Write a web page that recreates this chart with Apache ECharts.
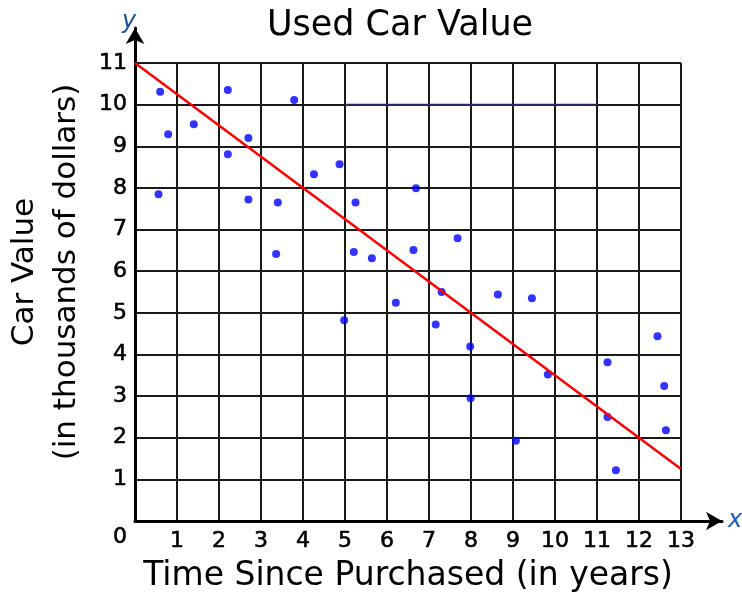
<!DOCTYPE html>
<html>
<head>
<meta charset="utf-8">
<script src="https://cdn.jsdelivr.net/npm/echarts@6/dist/echarts.min.js"></script>
<style>
  html, body { margin: 0; padding: 0; background: #fff; }
  #main { width: 742px; height: 595px; }
</style>
</head>
<body>
<div id="main"></div>
<script>
// data: [years, value in thousands]
var carPoints = [
  [0.60, 10.31], [0.79, 9.29], [1.40, 9.53], [2.21, 10.35], [2.21, 8.81],
  [2.70, 9.20], [3.79, 10.11], [4.26, 8.33], [4.87, 8.57], [6.69, 7.99],
  [0.56, 7.85], [2.70, 7.72], [3.40, 7.65], [3.36, 6.41], [5.25, 7.65],
  [5.21, 6.46], [5.64, 6.31], [6.63, 6.51], [4.98, 4.82], [6.21, 5.24],
  [7.16, 4.72], [7.30, 5.50], [7.68, 6.79], [8.64, 5.44], [9.45, 5.35],
  [7.98, 4.19], [11.25, 3.81], [12.44, 4.44], [9.83, 3.52], [7.99, 2.95],
  [9.07, 1.93], [11.25, 2.50], [11.45, 1.22], [12.60, 3.24], [12.64, 2.18]
];
// line of best fit
var fitLine = [[0, 11], [13, 1.25]];
// stray dark line on the 10 gridline
var strayLine = [[5, 10], [11, 10]];
var xMax = 13;
var yMax = 11;

var font = "DejaVu Sans";
var myChart = echarts.init(document.getElementById("main"));

// tick labels a bit heavier, like the original
var tickText = {
  fontFamily: font, fontSize: 22, color: "#000",
  textBorderColor: "#000", textBorderWidth: 0.6
};

var option = {
  animation: false,
  title: {
    text: "Used Car Value",
    left: 395,
    textAlign: "center",
    top: 3,
    textStyle: { fontFamily: font, fontSize: 35, fontWeight: "normal", color: "#000" }
  },
  grid: [
    { left: 135, right: 61, top: 63, bottom: 74, outerBoundsMode: "none", containLabel: false },
    // bigger grid only for the arrow axes
    { left: 135, right: 20, top: 28, bottom: 74, outerBoundsMode: "none", containLabel: false }
  ],
  xAxis: [
    {
      type: "value", gridIndex: 0, min: 0, max: xMax, interval: 1,
      name: "Time Since Purchased (in years)",
      nameLocation: "middle",
      nameGap: 39,
      nameTextStyle: { fontFamily: font, fontSize: 33, color: "#000" },
      axisLine: { show: false },
      axisTick: { show: false },
      axisLabel: Object.assign({
        margin: 9,
        formatter: function (v) { return v === 0 ? "" : v; }
      }, tickText),
      splitLine: { show: true, lineStyle: { color: "#1a1a1a", width: 2 } }
    },
    {
      type: "value", gridIndex: 1, min: 0, max: 1,
      name: "x",
      nameLocation: "end",
      nameGap: 6,
      nameTextStyle: { fontFamily: font, fontSize: 24, fontStyle: "italic", color: "#1a5fb4", verticalAlign: "middle", padding: [6, 0, 0, 0] },
      axisLine: { show: true, symbol: ["none", "arrow"], symbolSize: [14, 16], lineStyle: { color: "#000", width: 3 } },
      axisTick: { show: false },
      axisLabel: { show: false },
      splitLine: { show: false }
    }
  ],
  yAxis: [
    {
      type: "value", gridIndex: 0, min: 0, max: yMax, interval: 1,
      name: "Car Value\n(in thousands of dollars)",
      nameLocation: "middle",
      nameGap: 42,
      nameTextStyle: { fontFamily: font, fontSize: 31, color: "#000", lineHeight: 42, padding: [0, 0, 0, 40] },
      axisLine: { show: false },
      axisTick: { show: false },
      axisLabel: Object.assign({
        margin: 8,
        formatter: function (v) { return v === 0 ? "{z|0}" : v; },
        rich: { z: Object.assign({ padding: [32, 0, 0, 0] }, tickText) }
      }, tickText),
      splitLine: { show: true, lineStyle: { color: "#1a1a1a", width: 2 } }
    },
    {
      type: "value", gridIndex: 1, min: 0, max: 1,
      name: "y",
      nameLocation: "end",
      nameGap: -6,
      nameTextStyle: { fontFamily: font, fontSize: 24, fontStyle: "italic", color: "#1a4f9a", align: "center", padding: [0, 12, 0, 0] },
      axisLine: { show: true, symbol: ["none", "arrow"], symbolSize: [14, 16], lineStyle: { color: "#000", width: 3 } },
      axisTick: { show: false },
      axisLabel: { show: false },
      splitLine: { show: false }
    }
  ],
  series: [
    {
      type: "line", xAxisIndex: 0, yAxisIndex: 0,
      data: strayLine, symbol: "none",
      lineStyle: { color: "#2a2a70", width: 2 }
    },
    {
      type: "line", xAxisIndex: 0, yAxisIndex: 0,
      data: fitLine, symbol: "none",
      lineStyle: { color: "#ff0000", width: 2.5 }
    },
    {
      type: "scatter", xAxisIndex: 0, yAxisIndex: 0,
      data: carPoints, symbol: "circle", symbolSize: 8,
      itemStyle: { color: "#0000ff" }
    }
  ]
};
myChart.setOption(option);
</script>
</body>
</html>
